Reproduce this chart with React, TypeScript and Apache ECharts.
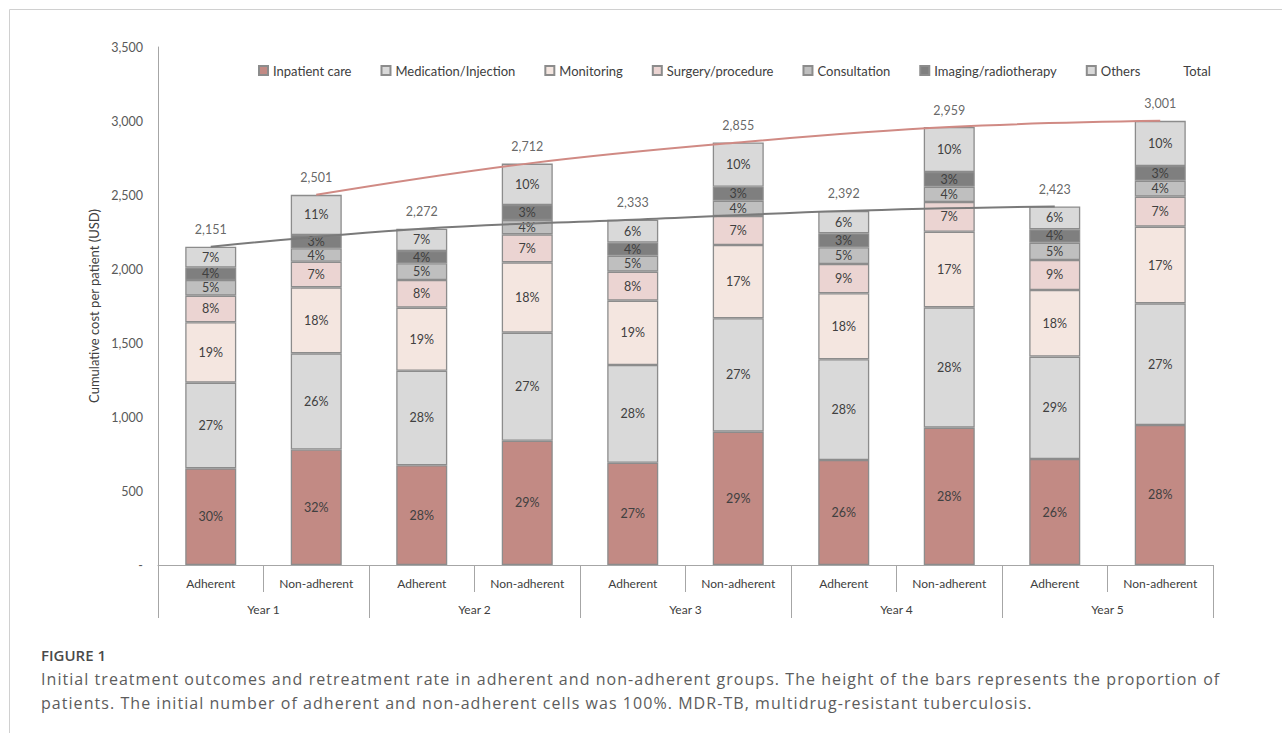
import React, { useEffect, useRef } from "react";
import * as echarts from "echarts";

const categories = [
  "Adherent", "Non-adherent", "Adherent", "Non-adherent", "Adherent",
  "Non-adherent", "Adherent", "Non-adherent", "Adherent", "Non-adherent",
];
const years = ["Year 1", "Year 2", "Year 3", "Year 4", "Year 5"];

// cumulative cost per patient (USD), per cost component
const inpatient = [653, 780, 674, 840, 691, 901, 709, 928, 716, 946];
const medication = [579, 650, 639, 730, 660, 766, 681, 813, 692, 822];
const monitoring = [408, 446, 426, 475, 435, 495, 446, 511, 450, 518];
const surgery = [180, 173, 187, 189, 196, 196, 198, 201, 203, 203];
const consultation = [106, 91, 113, 97, 108, 103, 113, 103, 117, 108];
const imaging = [83, 90, 83, 101, 88, 95, 94, 99, 90, 99];
const others = [142, 271, 150, 280, 155, 299, 151, 304, 155, 305];
const totals = [2151, 2501, 2272, 2712, 2333, 2855, 2392, 2959, 2423, 3001];

// percentage labels as printed on the bars
const inpatientPct = [30, 32, 28, 29, 27, 29, 26, 28, 26, 28];
const medicationPct = [27, 26, 28, 27, 28, 27, 28, 28, 29, 27];
const monitoringPct = [19, 18, 19, 18, 19, 17, 18, 17, 18, 17];
const surgeryPct = [8, 7, 8, 7, 8, 7, 9, 7, 9, 7];
const consultationPct = [5, 4, 5, 4, 5, 4, 5, 4, 5, 4];
const imagingPct = [4, 3, 4, 3, 4, 3, 3, 3, 4, 3];
const othersPct = [7, 11, 7, 10, 6, 10, 6, 10, 6, 10];

const yTicks = [0, 500, 1000, 1500, 2000, 2500, 3000, 3500];

const captionTitle = "FIGURE 1";
const captionLine1 =
  "Initial treatment outcomes and retreatment rate in adherent and non-adherent groups. The height of the bars represents the proportion of";
const captionLine2 =
  "patients. The initial number of adherent and non-adherent cells was 100%. MDR-TB, multidrug-resistant tuberculosis.";

const FONT = "Lato";
const TXT = "#404040";

export default function App() {
  const ref = useRef<HTMLDivElement>(null);

  useEffect(() => {
    if (!ref.current) return;
    const chart = echarts.init(ref.current, null, { renderer: "svg" });

    const segs = [
      { name: "Inpatient care", data: inpatient, pct: inpatientPct, color: "#c28a84" },
      { name: "Medication/Injection", data: medication, pct: medicationPct, color: "#d9d9d9" },
      { name: "Monitoring", data: monitoring, pct: monitoringPct, color: "#f4e6e0" },
      { name: "Surgery/procedure", data: surgery, pct: surgeryPct, color: "#ebd4d2" },
      { name: "Consultation", data: consultation, pct: consultationPct, color: "#bfbfbf" },
      { name: "Imaging/radiotherapy", data: imaging, pct: imagingPct, color: "#7f7f7f" },
      { name: "Others", data: others, pct: othersPct, color: "#d9d9d9" },
    ];

    const barSeries = segs.map((s) => ({
      name: s.name,
      type: "bar",
      stack: "cost",
      barWidth: 51,
      data: s.data,
      itemStyle: { color: s.color, borderColor: "#8c8c8c", borderWidth: 1.3 },
      label: {
        show: true,
        position: "inside",
        color: TXT,
        fontSize: 12.5,
        fontFamily: FONT,
        formatter: (p: any) => s.pct[p.dataIndex] + "%",
      },
      emphasis: { disabled: true },
    }));

    const adherentTotals = totals.map((v, i) => (i % 2 === 0 ? v : null));
    const nonAdherentTotals = totals.map((v, i) => (i % 2 === 1 ? v : null));

    const option: any = {
      animation: false,
      backgroundColor: "#ffffff",
      textStyle: { fontFamily: FONT },
      grid: { left: 158, right: 69, top: 47, bottom: 168, containLabel: false },
      legend: {
        top: 59,
        left: 253,
        itemWidth: 9,
        itemHeight: 9,
        itemGap: 29,
        textStyle: { color: TXT, fontSize: 13, fontFamily: FONT },
        data: [
          ...segs.map((s) => ({ name: s.name, icon: "rect" })),
          { name: "Total", icon: "rect", itemStyle: { color: "rgba(0,0,0,0)", borderWidth: 0 } },
        ],
      },
      xAxis: [
        {
          type: "category",
          data: categories,
          position: "bottom",
          axisLine: { show: true, lineStyle: { color: "#a6a6a6", width: 1 } },
          axisTick: { show: true, interval: 0, length: 27, lineStyle: { color: "#a6a6a6" } },
          axisLabel: { interval: 0, margin: 12, color: TXT, fontSize: 12, fontFamily: FONT },
        },
        {
          type: "category",
          data: years,
          position: "bottom",
          axisLine: { show: false },
          axisTick: { show: true, interval: 0, length: 53, lineStyle: { color: "#a6a6a6" } },
          axisLabel: { interval: 0, margin: 38, color: TXT, fontSize: 12, fontFamily: FONT },
        },
      ],
      yAxis: {
        type: "value",
        min: yTicks[0],
        max: yTicks[yTicks.length - 1],
        interval: 500,
        name: "Cumulative cost per patient (USD)",
        nameLocation: "middle",
        nameGap: 55,
        nameTextStyle: { color: TXT, fontSize: 13, fontFamily: FONT },
        axisLine: { show: true, lineStyle: { color: "#a6a6a6", width: 1 } },
        axisTick: { show: false },
        splitLine: { show: false },
        axisLabel: {
          margin: 15,
          color: "#595959",
          fontSize: 12.5,
          fontFamily: FONT,
          formatter: (v: number) => (v === 0 ? "-" : v.toLocaleString("en-US")),
        },
      },
      series: [
        ...barSeries,
        {
          name: "Adherent total",
          type: "line",
          data: adherentTotals,
          connectNulls: true,
          smooth: 0.4,
          symbol: "none",
          lineStyle: { color: "#7a7a7a", width: 2 },
          itemStyle: { color: "#7a7a7a" },
          z: 5,
          silent: true,
        },
        {
          name: "Non-adherent total",
          type: "line",
          data: nonAdherentTotals,
          connectNulls: true,
          smooth: 0.4,
          symbol: "none",
          lineStyle: { color: "#d08a84", width: 2 },
          itemStyle: { color: "#d08a84" },
          z: 5,
          silent: true,
        },
        {
          name: "Total",
          type: "scatter",
          data: totals,
          symbolSize: 1,
          itemStyle: { color: "rgba(0,0,0,0)" },
          label: {
            show: true,
            position: "top",
            distance: 10,
            color: TXT,
            fontSize: 12.5,
            fontFamily: FONT,
            formatter: (p: any) => Number(p.value).toLocaleString("en-US"),
          },
          z: 6,
          silent: true,
        },
      ],
      graphic: [
        {
          type: "line",
          shape: { x1: 9.5, y1: 9.5, x2: 1282, y2: 9.5 },
          style: { stroke: "#d0d0d0", lineWidth: 1 },
        },
        {
          type: "line",
          shape: { x1: 9.5, y1: 9.5, x2: 9.5, y2: 733 },
          style: { stroke: "#d0d0d0", lineWidth: 1 },
        },
      ],
    };

    chart.setOption(option);
    return () => chart.dispose();
  }, []);

  const lineStyle: React.CSSProperties = {
    position: "absolute",
    left: 41,
    margin: 0,
    fontFamily: "'Open Sans', sans-serif",
    fontSize: 16,
    lineHeight: "20px",
    letterSpacing: "1.05px",
    color: "#5c5c5c",
    whiteSpace: "nowrap",
  };

  return (
    <div style={{ position: "absolute", left: 0, top: 0, width: 1282, height: 733, background: "#fff" }}>
      <div ref={ref} style={{ position: "absolute", left: 0, top: 0, width: 1282, height: 733 }} />
      <div
        style={{
          position: "absolute",
          left: 41,
          top: 645,
          fontFamily: "'Open Sans', sans-serif",
          fontWeight: 600,
          fontSize: 15,
          lineHeight: "20px",
          color: "#4a4a4a",
          whiteSpace: "nowrap",
        }}
      >
        {captionTitle}
      </div>
      <div style={{ ...lineStyle, top: 669 }}>{captionLine1}</div>
      <div style={{ ...lineStyle, top: 693 }}>{captionLine2}</div>
    </div>
  );
}
